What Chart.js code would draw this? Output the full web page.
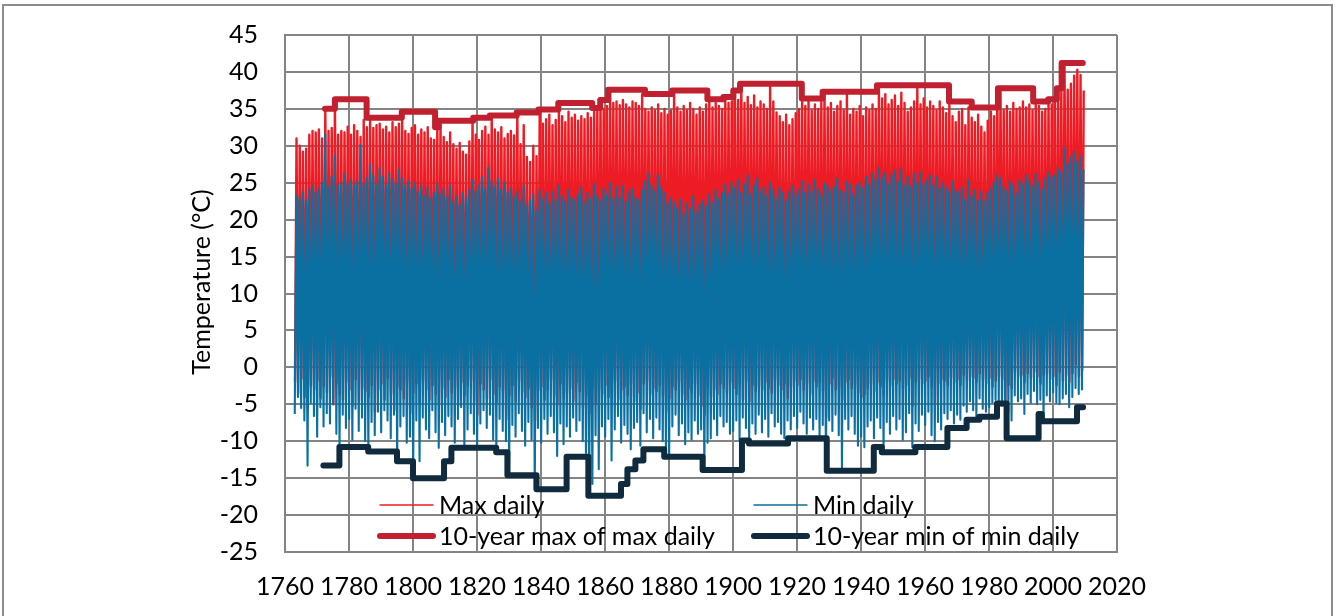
<!DOCTYPE html>
<html>
<head>
<meta charset="utf-8">
<title>Daily temperature extremes</title>
<script src="https://cdn.jsdelivr.net/npm/chart.js@4.4.1/dist/chart.umd.min.js"></script>
<style>
  html, body { margin: 0; padding: 0; background: #fff; }
  #wrap { position: relative; width: 1336px; height: 616px; overflow: hidden; }
  #chart { position: absolute; left: 0; top: 0; }
  #frame {
    position: absolute; left: 2px; top: 4px; width: 1331px; height: 700px;
    border: 2px solid #8c8c8c; box-sizing: border-box; pointer-events: none;
  }
</style>
</head>
<body>
<div id="wrap">
  <canvas id="chart" width="1336" height="616"></canvas>
  <div id="frame"></div>
</div>
<script>
// yearly envelopes of the daily series (1763 .. 2009)
const firstYear = 1763;

// annual highest value of "Max daily"
const maxDailyHigh = [
  31.0, 30.0, 29.2, 29.6, 31.5, 32.0, 31.8,
  32.2, 31.0, 35.0, 32.0, 32.4, 36.3, 31.5, 32.0, 31.8, 32.6,
  31.5, 32.8, 32.0, 31.2, 33.5, 32.5, 33.8, 32.4, 32.8, 33.0,
  32.2, 32.6, 31.8, 33.2, 32.5, 33.0, 34.6, 32.0, 31.6, 32.4,
  32.8, 31.5, 32.2, 31.8, 32.5, 31.0, 30.8, 32.4, 33.4, 31.2,
  30.5, 31.8, 30.2, 29.6, 30.4, 29.2, 28.8, 30.6, 33.8, 31.5,
  30.8, 32.0, 32.6, 31.5, 34.1, 32.2, 31.8, 32.5, 31.0, 31.6,
  32.0, 31.4, 34.5, 30.2, 32.8, 28.5, 27.8, 30.0, 28.6, 34.9,
  33.0, 33.6, 34.2, 32.8, 33.5, 35.8, 34.0, 33.2, 34.6, 33.8,
  34.2, 33.4, 34.0, 33.6, 34.4, 33.8, 35.1, 34.8, 36.2, 35.0,
  35.4, 37.6, 35.8, 36.0, 35.5, 36.2, 35.6, 35.2, 36.0, 35.8,
  35.4, 37.0, 35.0, 34.6, 35.2, 34.8, 35.6, 34.4, 35.0, 34.2,
  34.8, 37.5, 35.2, 34.6, 35.4, 34.8, 35.8, 35.0, 34.2, 35.2,
  34.6, 35.6, 36.3, 35.2, 35.8, 35.4, 35.0, 36.6, 35.8, 36.0,
  37.5, 36.2, 38.4, 35.8, 36.6, 35.5, 36.8, 35.2, 36.0, 35.6,
  35.0, 38.4, 36.0, 34.5, 34.0, 33.2, 34.2, 32.8, 33.6, 34.4,
  35.0, 36.2, 35.4, 36.4, 34.8, 35.6, 35.0, 36.0, 37.3, 35.2,
  35.8, 34.6, 35.4, 36.0, 34.8, 37.3, 34.2, 35.0, 34.6, 35.4,
  34.0, 35.2, 34.8, 35.6, 35.0, 38.2, 36.4, 37.0, 35.6, 36.2,
  36.8, 35.4, 37.2, 35.8, 34.6, 35.2, 36.0, 38.2, 35.6, 36.4,
  35.2, 36.0, 35.4, 34.8, 36.0, 35.2, 34.4, 35.6, 34.0, 33.2,
  34.6, 35.0, 32.8, 35.2, 33.8, 33.2, 34.2, 32.6, 31.8, 33.4,
  34.6, 34.0, 37.8, 37.6, 34.8, 35.4, 34.6, 35.8, 35.0, 35.2,
  36.0, 35.2, 35.6, 34.8, 36.0, 35.4, 34.6, 35.0, 36.3, 35.6,
  36.2, 37.0, 37.8, 41.2, 37.6, 38.4, 39.5, 40.3, 39.6, 37.5
];

// annual lowest value of "Max daily"
const maxDailyLow = [
  -2.0, -3.5, -1.5, -4.0, -5.5, -2.5, -3.0,
  -1.8, -4.2, -2.6, -3.4, -1.2, -5.0, -2.2, -3.6, -4.4, -2.0,
  -3.0, -5.2, -1.6, -4.6, -2.8, -3.2, -4.0, -2.4, -6.0, -3.0,
  -2.2, -4.4, -1.4, -3.6, -5.8, -2.6, -3.0, -4.2, -2.0, -6.2,
  -3.4, -2.2, -4.8, -1.8, -3.0, -4.4, -2.4, -3.6, -5.0, -2.8,
  -4.0, -1.6, -3.4, -2.6, -5.2, -2.0, -3.8, -2.4, -1.8, -4.6,
  -6.4, -2.2, -3.0, -4.2, -1.6, -3.6, -4.8, -2.6, -3.2, -7.0,
  -3.8, -2.4, -4.6, -1.8, -3.2, -4.0, -2.8, -5.4, -7.2, -3.0,
  -2.6, -4.4, -3.0, -1.6, -3.8, -5.0, -2.2, -4.2, -3.4, -2.8,
  -4.6, -2.0, -3.2, -5.4, -3.8, -6.2, -2.6, -4.8, -3.0, -3.6,
  -2.4, -4.0, -3.2, -1.8, -4.4, -3.0, -2.6, -3.8, -2.2, -4.6,
  -3.4, -5.6, -2.2, -1.8, -3.6, -2.8, -3.2, -2.4, -3.8, -6.0,
  -4.2, -2.6, -3.0, -2.0, -3.6, -4.4, -2.8, -3.4, -2.2, -3.8,
  -5.2, -6.4, -2.6, -4.0, -3.0, -3.6, -2.2, -2.8, -3.4, -2.0,
  -2.8, -3.6, -2.2, -4.4, -1.8, -4.6, -2.4, -3.2, -2.6, -3.0,
  -2.0, -2.8, -3.4, -1.6, -2.4, -3.0, -2.2, -4.2, -2.6, -1.8,
  -2.4, -1.6, -3.0, -2.2, -3.6, -1.8, -2.6, -2.0, -3.2, -6.8,
  -2.2, -1.4, -3.0, -2.6, -4.4, -2.0, -1.6, -2.8, -2.4, -3.4,
  -4.0, -3.6, -2.8, -2.2, -3.2, -2.0, -2.6, -3.8, -1.8, -2.4,
  -1.6, -2.2, -1.8, -2.8, -2.4, -1.4, -5.2, -2.0, -1.6, -2.2,
  -1.8, -1.2, -2.6, -5.0, -2.2, -1.6, -1.8, -2.4, -1.4, -2.0,
  -1.6, -2.4, -1.0, -1.8, -1.2, -1.4, -2.0, -0.8, -1.6, -2.2,
  -1.4, -2.6, -1.8, -1.2, -1.6, -4.8, -2.4, -2.8, -0.6, -1.2,
  -1.0, -2.0, -0.8, -1.4, -0.6, -1.2, -2.2, -1.0, -0.8, -1.6,
  -1.2, -2.4, -0.6, -1.8, -1.0, -2.0, -0.8, 0.4, -1.2, -0.4
];

// annual highest value of "Min daily"
const minDailyHigh = [
  23.3, 22.8, 23.8, 22.6, 24.0, 24.6, 23.6,
  24.2, 25.0, 31.7, 24.4, 25.8, 28.7, 24.6, 25.0, 26.2, 24.8,
  25.4, 24.6, 25.2, 30.1, 24.8, 25.6, 27.5, 26.0, 24.8, 27.0,
  25.8, 24.6, 26.2, 25.4, 24.8, 26.8, 25.6, 24.6, 25.2, 24.2,
  25.0, 23.8, 24.6, 23.2, 24.4, 22.8, 23.6, 24.8, 23.4, 24.2,
  23.0, 24.6, 22.4, 23.2, 22.0, 23.6, 22.8, 24.0, 25.4, 23.8,
  24.6, 25.8, 24.2, 27.0, 25.2, 24.4, 25.6, 24.0, 25.0, 23.6,
  24.2, 23.0, 23.8, 22.4, 24.6, 21.8, 22.6, 23.4, 21.2, 24.0,
  22.8, 23.6, 22.2, 23.8, 22.6, 24.6, 23.2, 22.4, 24.0, 23.0,
  22.6, 23.4, 24.4, 22.2, 23.6, 22.8, 24.8, 23.2, 22.6, 24.2,
  23.4, 25.0, 22.8, 24.4, 23.0, 24.6, 22.4, 23.8, 24.2, 23.0,
  22.6, 24.0, 25.2, 26.2, 24.6, 23.8, 26.0, 24.4, 23.6, 22.2,
  23.0, 22.4, 21.6, 22.8, 20.8, 22.2, 21.4, 23.2, 21.0, 22.0,
  22.6, 21.8, 23.4, 22.2, 24.0, 22.8, 23.6, 24.8, 23.4, 25.0,
  24.2, 25.4, 23.6, 24.8, 26.0, 23.4, 24.6, 25.6, 23.8, 24.4,
  23.2, 25.0, 24.0, 22.8, 24.4, 23.6, 22.6, 23.8, 24.6, 23.4,
  24.0, 25.2, 23.6, 24.8, 23.8, 25.4, 24.2, 23.4, 25.0, 24.6,
  23.8, 24.4, 25.6, 24.0, 23.6, 25.2, 24.8, 23.4, 24.6, 25.0,
  24.2, 25.8, 24.8, 26.2, 25.4, 27.0, 25.6, 26.4, 24.8, 26.0,
  26.6, 25.2, 26.8, 24.6, 25.8, 24.4, 26.2, 25.0, 26.4, 24.8,
  25.4, 26.0, 24.6, 25.8, 24.2, 25.0, 24.4, 23.8, 25.2, 24.0,
  23.6, 24.4, 22.8, 25.4, 23.2, 24.0, 22.6, 23.8, 22.4, 23.6,
  24.2, 25.0, 26.0, 25.6, 24.4, 23.8, 25.2, 24.6, 23.4, 25.4,
  24.8, 26.0, 25.2, 24.4, 26.2, 25.0, 24.0, 25.6, 26.4, 25.8,
  26.0, 27.0, 26.4, 29.7, 27.6, 28.4, 29.2, 27.8, 28.6, 26.8
];

// annual lowest value of "Min daily"
const minDailyLow = [
  -6.3, -4.0, -5.5, -7.2, -13.3, -4.8, -6.6,
  -9.4, -5.4, -8.0, -6.2, -7.6, -5.0, -9.0, -10.8, -6.4, -8.2,
  -7.0, -9.8, -5.6, -8.6, -6.8, -10.0, -11.4, -7.4, -9.2, -6.0,
  -8.8, -5.8, -7.2, -9.6, -6.4, -12.7, -8.0, -6.6, -10.2, -9.4,
  -15.0, -7.2, -12.7, -6.8, -8.4, -9.6, -5.8, -8.8, -10.9, -7.4,
  -9.2, -6.6, -8.0, -10.2, -7.0, -5.4, -10.9, -8.4, -6.2, -9.0,
  -10.4, -7.6, -5.8, -8.2, -6.4, -9.8, -11.5, -7.0, -8.6, -10.0,
  -14.6, -7.8, -9.4, -6.2, -8.6, -10.6, -7.4, -9.8, -16.5, -8.2,
  -10.2, -7.0, -9.0, -6.6, -8.8, -12.0, -7.6, -10.4, -8.0, -9.4,
  -6.8, -8.6, -7.2, -10.0, -11.6, -17.4, -15.8, -9.2, -13.8, -8.0,
  -9.4, -7.0, -12.6, -8.4, -6.6, -10.2, -7.8, -9.0, -11.1, -8.2,
  -7.4, -10.6, -6.2, -8.8, -7.0, -9.6, -6.8, -8.4, -10.0, -12.1,
  -12.1, -8.0, -6.4, -9.2, -7.6, -10.4, -8.8, -9.8, -7.2, -9.0,
  -8.4, -13.9, -10.2, -9.6, -7.0, -9.2, -6.6, -8.0, -7.4, -9.0,
  -8.6, -7.2, -9.9, -6.8, -8.2, -10.3, -7.6, -9.0, -6.4, -8.8,
  -7.0, -9.4, -6.2, -8.0, -7.4, -9.0, -9.6, -7.2, -8.4, -6.6,
  -8.2, -6.0, -7.6, -9.0, -6.8, -8.4, -7.0, -9.2, -7.8, -14.0,
  -7.2, -8.6, -6.4, -9.2, -13.9, -7.0, -8.4, -6.6, -9.0, -10.6,
  -9.4, -10.8, -8.0, -7.2, -9.6, -6.8, -8.2, -11.5, -7.4, -9.0,
  -6.6, -8.4, -7.0, -9.8, -8.8, -6.2, -10.8, -7.6, -8.6, -6.4,
  -7.8, -6.0, -9.2, -10.0, -7.4, -8.4, -6.2, -7.0, -5.8, -7.6,
  -6.4, -7.1, -5.2, -6.0, -4.6, -5.8, -6.7, -4.2, -5.6, -6.0,
  -5.4, -4.8, -4.4, -4.9, -5.2, -9.6, -6.0, -7.2, -3.8, -4.6,
  -4.2, -6.3, -3.6, -4.8, -3.2, -5.0, -4.4, -7.3, -3.8, -4.6,
  -3.4, -4.8, -5.0, -4.2, -3.6, -5.4, -4.0, -2.8, -3.6, -3.0
];

// 10-year max of max daily: year where each level starts, and the level
const maxStepYears = [1772.5, 1775.6, 1785.5, 1796.5, 1806.9, 1808.0, 1818.8, 1824.0, 1832.4, 1839.2,
  1845.4, 1856.0, 1858.5, 1861.0, 1872.5, 1881.0, 1892.0, 1897.0, 1900.1, 1902.2,
  1921.5, 1928.0, 1945.0, 1967.5, 1974.6, 1982.8, 1993.8, 1998.5, 2001.2, 2002.7, 2009.3];
const maxStepValues = [35.0, 36.3, 33.8, 34.6, 32.5, 33.4, 33.8, 34.1, 34.5, 34.9,
  35.8, 35.1, 36.2, 37.6, 37.0, 37.5, 36.3, 36.6, 37.5, 38.4,
  36.4, 37.3, 38.2, 36.0, 35.2, 37.8, 36.0, 36.3, 37.8, 41.2, 41.2];

// 10-year min of min daily
const minStepYears = [1772.0, 1777.0, 1786.0, 1795.0, 1800.0, 1809.7, 1812.0, 1826.0, 1829.5, 1838.6,
  1848.0, 1854.8, 1865.0, 1867.0, 1869.5, 1872.0, 1878.5, 1890.5, 1902.8, 1905.0,
  1917.2, 1929.3, 1944.0, 1946.5, 1957.0, 1967.0, 1973.0, 1977.0, 1982.5, 1985.5,
  1995.5, 1996.5, 2007.5, 2009.4];
const minStepValues = [-13.3, -10.8, -11.4, -12.7, -15.0, -12.7, -10.9, -11.5, -14.6, -16.5,
  -12.1, -17.4, -15.8, -13.8, -12.6, -11.1, -12.1, -13.9, -9.9, -10.3,
  -9.6, -14.0, -10.8, -11.5, -10.8, -8.2, -7.1, -6.7, -4.9, -9.6,
  -6.3, -7.3, -5.4, -5.4];

const yMin = -25, yMax = 45, yStep = 5;
const xMin = 1760, xMax = 2020, xStep = 20;
const yTitle = "Temperature (°C)";

const FONT = "Lato, 'Open Sans', sans-serif";
const FONT_SIZE = 25;

// daily series drawn as winter low -> summer high -> next winter low
function yearly(lows, highs, lowAt, highAt) {
  const pts = [];
  lows.forEach((lo, i) => {
    const y = firstYear + i;
    pts.push({ x: y + lowAt, y: lo });
    pts.push({ x: y + highAt, y: highs[i] });
  });
  return pts;
}

function steps(years, values) {
  return years.map((x, i) => ({ x, y: values[i] }));
}

// legend sits inside the plot, two columns, like the original; also the y title
const legendInPlot = {
  id: "legendInPlot",
  afterDatasetsDraw(chart) {
    const { ctx, chartArea } = chart;
    const ds = chart.data.datasets;
    const slots = [
      { label: "Max daily", col: 0, row: 0 },
      { label: "Min daily", col: 1, row: 0 },
      { label: "10-year max of max daily", col: 0, row: 1 },
      { label: "10-year min of min daily", col: 1, row: 1 },
    ];
    const colX = [chartArea.left + 95, chartArea.left + 469];
    const rowY = [chartArea.bottom - 47, chartArea.bottom - 16];
    ctx.save();
    ctx.font = FONT_SIZE + "px " + FONT;
    ctx.fillStyle = "#000";
    ctx.textBaseline = "middle";
    slots.forEach((s) => {
      const d = ds.find((x) => x.label === s.label);
      const x0 = colX[s.col], y0 = rowY[s.row];
      ctx.beginPath();
      ctx.strokeStyle = d.borderColor;
      ctx.lineWidth = d.legendWidth;
      ctx.lineCap = "round";
      ctx.moveTo(x0, y0);
      ctx.lineTo(x0 + 53, y0);
      ctx.stroke();
      ctx.fillText(s.label, x0 + 59, y0 + 1);
    });

    // y axis title, centred a little above the plot middle as in the source
    ctx.translate(202, 282);
    ctx.rotate(-Math.PI / 2);
    ctx.textAlign = "center";
    ctx.fillText(yTitle, 0, 0);
    ctx.restore();
  },
};

new Chart(document.getElementById("chart"), {
  type: "line",
  data: {
    datasets: [
      {
        label: "10-year max of max daily",
        data: steps(maxStepYears, maxStepValues),
        borderColor: "#c0202f",
        borderWidth: 6,
        legendWidth: 6,
        stepped: true,
        borderCapStyle: "round",
        borderJoinStyle: "round",
        pointRadius: 0,
        order: 0,
      },
      {
        label: "10-year min of min daily",
        data: steps(minStepYears, minStepValues),
        borderColor: "#0f2b3d",
        borderWidth: 6,
        legendWidth: 6,
        stepped: true,
        borderCapStyle: "round",
        borderJoinStyle: "round",
        pointRadius: 0,
        order: 0,
      },
      {
        label: "Min daily",
        data: yearly(minDailyLow, minDailyHigh, 0.05, 0.55),
        borderColor: "#0a70a2",
        borderWidth: 2.1,
        legendWidth: 1.4,
        borderJoinStyle: "round",
        pointRadius: 0,
        order: 1,
      },
      {
        label: "Max daily",
        data: yearly(maxDailyLow, maxDailyHigh, 0.12, 0.6),
        borderColor: "#ed1c24",
        borderWidth: 2.4,
        legendWidth: 1.4,
        borderJoinStyle: "round",
        pointRadius: 0,
        order: 2,
      },
    ],
  },
  options: {
    responsive: false,
    animation: false,
    events: [],
    layout: { padding: { left: 0, top: 35, right: 219, bottom: 0 } },
    plugins: { legend: { display: false }, tooltip: { enabled: false } },
    scales: {
      x: {
        type: "linear",
        min: xMin,
        max: xMax,
        ticks: {
          stepSize: xStep,
          color: "#000",
          font: { family: FONT, size: FONT_SIZE },
          padding: 20,
          maxRotation: 0,
          callback: (v) => String(v),
        },
        grid: { color: "#848484", lineWidth: 2, drawTicks: false },
        border: { color: "#848484", width: 2 },
        afterFit: (s) => { s.height = 64; },
      },
      y: {
        min: yMin,
        max: yMax,
        ticks: {
          stepSize: yStep,
          color: "#000",
          font: { family: FONT, size: FONT_SIZE },
          padding: 27,
        },
        grid: { color: "#848484", lineWidth: 2, drawTicks: false },
        border: { color: "#848484", width: 2 },
        // the tick padding would otherwise push the plot top down
        afterFit: (s) => { s.width = 285; s.paddingTop = 0; s.paddingBottom = 0; },
      },
    },
  },
  plugins: [legendInPlot],
});
</script>
</body>
</html>
